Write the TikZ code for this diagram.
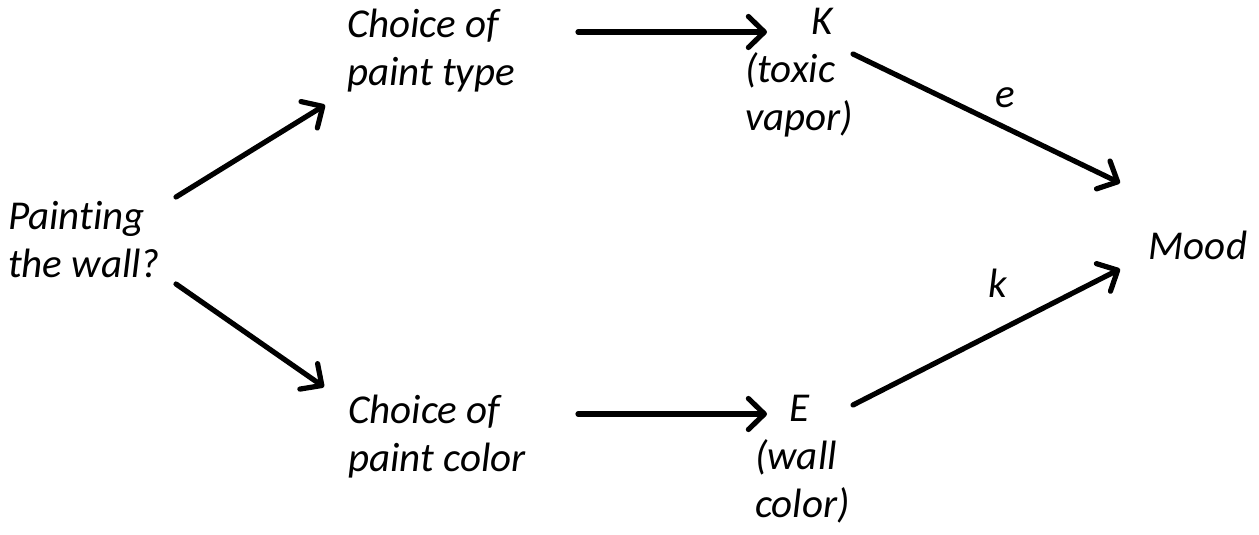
\documentclass[tikz,border=0pt]{standalone}
\usepackage{fontspec}
\setmainfont{Carlito}[Ligatures=NoCommon]
\usetikzlibrary{arrows.meta}
\tikzset{
  lbl/.style={inner sep=0pt, font=\fontsize{41}{48}\selectfont\itshape},
  conn/.style={line width=5.2pt, line cap=round,
    -{Straight Barb[length=16pt,width=31pt,line width=5.2pt,round]}},
}
\begin{document}
\begin{tikzpicture}[x=1pt,y=-1pt]
\useasboundingbox (0,0) rectangle (1259,535);
% variables
\node[lbl, align=left]              (paint) at (84,240)   {Painting\\the wall?};
\node[lbl, align=left]              (type)  at (431,51)   {Choice of\\paint type};
\node[lbl, align=left]              (color) at (437,437)  {Choice of\\paint color};
\node[lbl, align=left, anchor=west] (K)     at (745,73)   {\hspace*{66pt}K\\(toxic\\vapor)};
\node[lbl, align=left, anchor=west] (E)     at (755,459)  {\hspace*{34pt}E\\(wall\\color)};
\node[lbl]                          (mood)  at (1198,245) {Mood};
% edge labels
\node[lbl] (le) at (1005,98)  {e};
\node[lbl] (lk) at (998,283)  {k};
% arrow end points
\coordinate (p1) at (176,197); \coordinate (t1) at (325,105);
\coordinate (p2) at (176,284); \coordinate (c2) at (324,387);
\coordinate (t3) at (578,32);  \coordinate (k3) at (767,32);
\coordinate (c4) at (578,414); \coordinate (e4) at (767,414);
\coordinate (k5) at (853,54);  \coordinate (m5) at (1120,183);
\coordinate (e6) at (853,405); \coordinate (m6) at (1120,269);
\draw[conn] (p1) -- (t1);
\draw[conn] (p2) -- (c2);
\draw[conn] (t3) -- (k3);
\draw[conn] (c4) -- (e4);
\draw[conn] (k5) -- (m5);
\draw[conn] (e6) -- (m6);
\end{tikzpicture}
\end{document}
